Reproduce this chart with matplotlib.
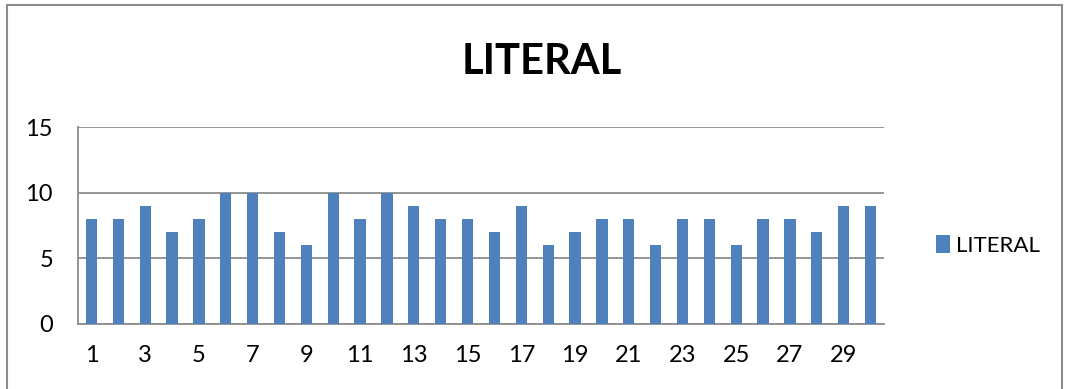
import matplotlib.pyplot as plt
from matplotlib.patches import Rectangle

plt.rcParams['font.family'] = ['Lato', 'DejaVu Sans']

# Data
days = list(range(1, 31))
literal = [8, 8, 9, 7, 8, 10, 10, 7, 6, 10, 8, 10, 9, 8, 8, 7, 9, 6, 7, 8,
           8, 6, 8, 8, 6, 8, 8, 7, 9, 9]
yticks = [0, 5, 10, 15]

fig = plt.figure(figsize=(10.65, 3.89), dpi=100)
W, H = 1065, 389
ax = fig.add_axes([78 / W, 1 - 324 / H, (884 - 78) / W, (324 - 127) / H])

# outer chart border
fig.patches.append(Rectangle((7 / W, -0.1), (1062 - 7) / W, 1.1 - 5 / H,
                             transform=fig.transFigure, fill=False,
                             edgecolor='#8c8c8c', linewidth=1.5))

ax.bar(days, literal, width=0.42, color='#4F81BD', label='LITERAL', zorder=3)

ax.set_xlim(0.5, 30.5)
ax.set_ylim(0, 15)
ax.set_yticks(yticks)
ax.set_xticks(days[::2])
ax.tick_params(axis='both', length=0, labelsize=17, colors='black')
ax.tick_params(axis='x', pad=15)
ax.tick_params(axis='y', pad=18)
ax.grid(axis='y', color='#8c8c8c', linewidth=1.3, zorder=0)

for s in ['top', 'right']:
    ax.spines[s].set_visible(False)
for s in ['left', 'bottom']:
    ax.spines[s].set_color('#8c8c8c')
    ax.spines[s].set_linewidth(1.3)

fig.text(542 / W, 1 - 62 / H, 'LITERAL', ha='center', va='center',
         fontsize=30, fontweight='bold')

ax.legend(loc='center left', bbox_to_anchor=(1.04, 0.4), frameon=False,
          fontsize=16, handlelength=0.6, handleheight=0.9, handletextpad=0.3)

fig.savefig('out.png', dpi=100)
